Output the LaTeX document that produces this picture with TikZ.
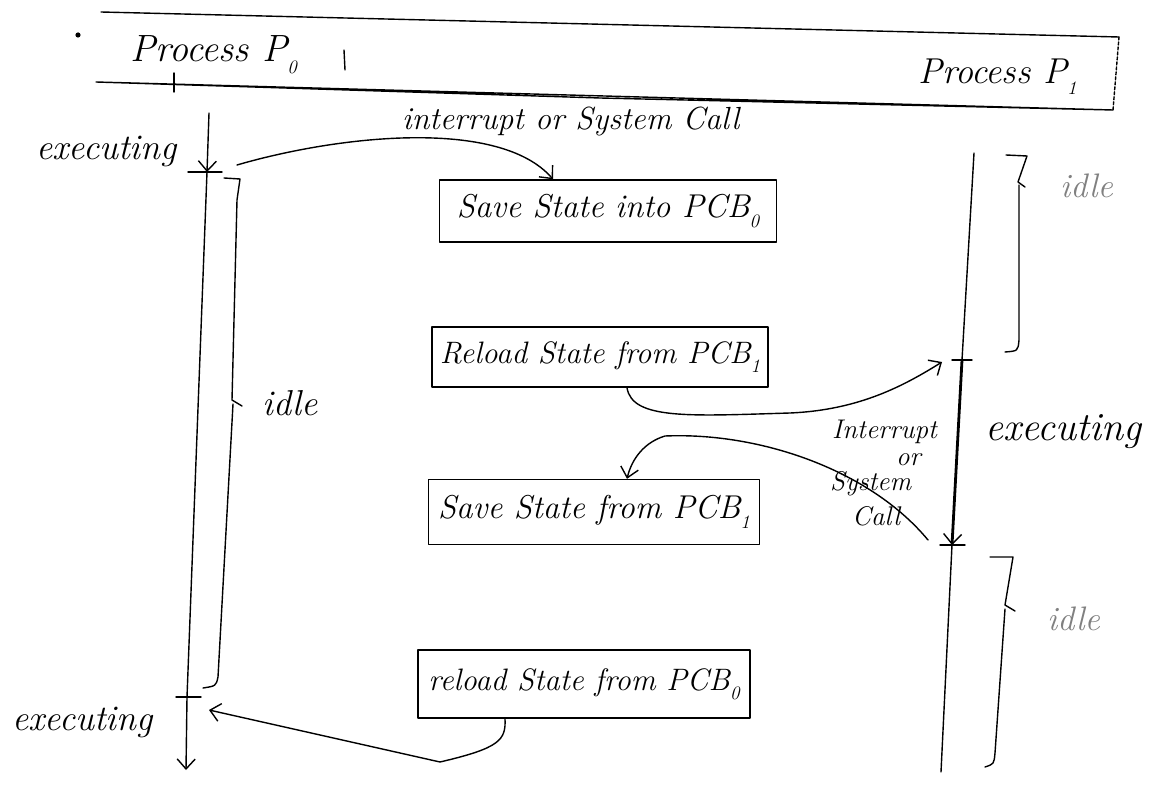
\documentclass[tikz,border=0pt]{standalone}
\usepackage{fontspec}
\usetikzlibrary{arrows.meta}
\newcommand{\hwsub}[1]{\raisebox{-0.3em}{\fontsize{19}{21}\selectfont #1}}
\begin{document}
\begin{tikzpicture}[x=1pt,y=-1pt,
  pen/.style={line width=1.4pt, line cap=round, line join=round},
  arr/.style={pen, -{Straight Barb[length=10pt,width=18pt,line width=1.4pt]}},
  hw/.style={inner sep=0pt, font=\fontsize{30}{34}\selectfont\itshape},
  big/.style={hw, font=\fontsize{36}{40}\selectfont\itshape},
  lbl/.style={hw, font=\fontsize{27}{30}\selectfont\itshape},
  faint/.style={hw, text=black!50, font=\fontsize{34}{38}\selectfont\itshape},
  pbox/.style={pen, draw, rectangle, inner sep=0pt, font=\fontsize{33}{36}\selectfont\itshape},
  pboxs/.style={pbox, font=\fontsize{31}{34}\selectfont\itshape},
]
\useasboundingbox (0,0) rectangle (1173,786);

% top banner
\draw[pen] (101,12) -- (1119,37);
\draw[pen, densely dashed] (1119,37) -- (1113,110);
\draw[pen] (1113,110) -- (600,98) -- (96,82) -- cycle;
\fill (78,35) circle (2.6pt);
\draw[pen] (174,73) -- (174,92);
\node[hw, anchor=base west, font=\fontsize{38}{42}\selectfont\itshape] (t0) at (130,62) {Process P\hwsub{0}};
\draw[pen] (344,50) -- (345,70);
\node[hw, anchor=base west, font=\fontsize{36}{40}\selectfont\itshape] (t1) at (918,84) {Process P\hwsub{1}};

% boxes
\node[pbox, minimum width=337pt, minimum height=62pt] (b1) at (608,211) {Save State into PCB\hwsub{0}};
\node[pboxs, minimum width=336pt, minimum height=60pt] (b2) at (600,357) {Reload State from PCB\hwsub{1}};
\node[pbox, minimum width=331pt, minimum height=65pt] (b3) at (594,512) {Save State from PCB\hwsub{1}};
\node[pboxs, minimum width=332pt, minimum height=68pt] (b4) at (584,684) {reload State from PCB\hwsub{0}};

% timelines
\coordinate (p0a) at (209,113);
\coordinate (p0b) at (207,172);
\coordinate (p0c) at (187,697);
\coordinate (p0d) at (186,770);
\coordinate (p1a) at (974,153);
\coordinate (p1b) at (962,360);
\coordinate (p1c) at (952,545);
\coordinate (p1d) at (941,772);

\draw[arr] (p0a) -- (p0b);
\draw[pen] (p0b) -- (p0c);
\draw[arr] (p0c) -- (p0d);
\draw[pen] ([xshift=-19pt]p0b) -- ([xshift=15pt]p0b);
\draw[pen] ([xshift=-11pt]p0c) -- ([xshift=14pt]p0c);

\draw[pen] (p1a) -- (p1b);
\draw[pen, line width=2.8pt, -{Straight Barb[length=10pt,width=18pt,line width=1.4pt]}] (p1b) -- (p1c);
\draw[pen] (p1c) -- (p1d);
\draw[pen] ([xshift=-10pt]p1b) -- ([xshift=10pt]p1b);
\draw[pen] ([xshift=-12pt]p1c) -- ([xshift=13pt]p1c);

% connectors
\draw[arr] (237,165) .. controls (340,135) and (500,118) .. ([xshift=-55pt]b1.north);
\draw[arr] ([xshift=27pt]b2.south) .. controls (632,420) and (690,416) .. (790,413) .. controls (860,410) and (905,385) .. ([shift={(-20,2)}]p1b);
\draw[arr] ([shift={(-24,-5)}]p1c) .. controls (870,470) and (760,432) .. (665,436) .. controls (645,442) and (632,458) .. ([xshift=33pt]b3.north);
\draw[arr] ([xshift=-79pt]b4.south) .. controls (506,740) and (500,748) .. (440,762) -- ([shift={(22,13)}]p0c);

% braces
\draw[pen] (224,178) -- (240,179) -- (237,200) -- (232,400) -- (242,406);
\draw[pen] (233,404) -- (218,677) .. controls (216,686) .. (203,688);
\draw[pen] (1006,155) -- (1027,156) -- (1018,182) -- (1025,187);
\draw[pen] (1019,185) -- (1019,340) .. controls (1018,351) .. (1005,352);
\draw[pen] (990,557) -- (1013,557) -- (1005,605) -- (1015,611);
\draw[pen] (1005,609) -- (995,753) .. controls (994,764) .. (985,767);

% labels
\node[big, anchor=base west] (ex1) at (36,160) {executing};
\node[big, anchor=base west] (ex2) at (12,730) {executing};
\node[big, font=\fontsize{40}{44}\selectfont\itshape, anchor=base west] (ex3) at (985,440) {executing};
\node[hw, anchor=base west, font=\fontsize{32}{36}\selectfont\itshape] (int1) at (402,130) {interrupt or System Call};
\node[lbl, anchor=base west] (int2) at (832,438) {Interrupt};
\node[lbl, anchor=base west] (or2) at (896,465) {or};
\node[lbl, anchor=base west] (sys2) at (830,490) {System};
\node[lbl, anchor=base west] (call2) at (852,525) {Call};
\node[big, anchor=base west] (id1) at (262,415) {idle};
\node[faint, anchor=base west] (id2) at (1060,198) {idle};
\node[faint, anchor=base west] (id3) at (1047,630) {idle};
\end{tikzpicture}
\end{document}
